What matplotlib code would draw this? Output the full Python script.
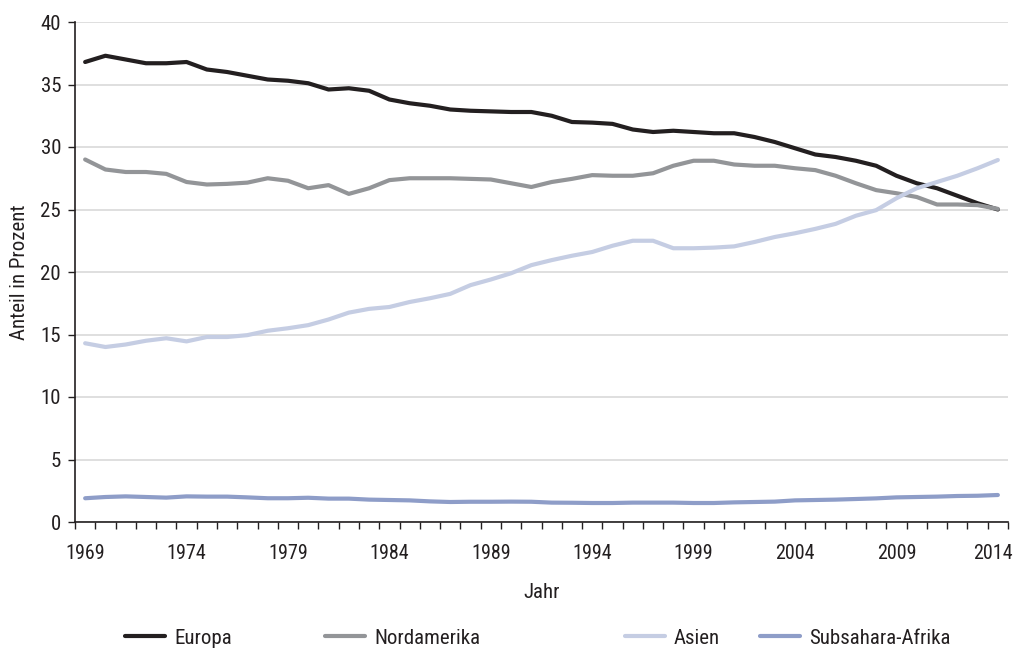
import matplotlib
matplotlib.use("Agg")
import matplotlib.pyplot as plt
from matplotlib import font_manager
from matplotlib.transforms import ScaledTranslation
import numpy as np

names = {f.name for f in font_manager.fontManager.ttflist}
chosen = 'Liberation Sans'
for p in ['Roboto Condensed', 'Archivo Narrow', 'Liberation Sans Narrow']:
    if p in names:
        chosen = p
        break
plt.rcParams['font.family'] = [chosen, 'DejaVu Sans']

years = list(range(1969, 2015))
europa = [36.8, 37.3, 37.0, 36.7, 36.7, 36.8, 36.2, 36.0, 35.7, 35.4, 35.3, 35.1,
          34.6, 34.7, 34.5, 33.8, 33.5, 33.3, 33.0, 32.9, 32.85, 32.8, 32.8, 32.5,
          32.0, 31.95, 31.85, 31.4, 31.2, 31.3, 31.2, 31.1, 31.1, 30.8, 30.4, 29.9,
          29.4, 29.2, 28.9, 28.5, 27.7, 27.1, 26.7, 26.1, 25.5, 25.0]
nordamerika = [29.0, 28.2, 28.0, 28.0, 27.85, 27.2, 27.0, 27.05, 27.15, 27.5, 27.3, 26.7,
               26.95, 26.25, 26.7, 27.35, 27.5, 27.5, 27.5, 27.45, 27.4, 27.1, 26.8, 27.2,
               27.45, 27.75, 27.7, 27.7, 27.9, 28.5, 28.9, 28.9, 28.6, 28.5, 28.5, 28.3,
               28.15, 27.7, 27.1, 26.55, 26.3, 26.0, 25.4, 25.4, 25.35, 25.05]
asien = [14.3, 14.0, 14.2, 14.5, 14.7, 14.45, 14.8, 14.8, 14.95, 15.3, 15.5, 15.75,
         16.2, 16.75, 17.05, 17.2, 17.6, 17.9, 18.25, 18.95, 19.4, 19.9, 20.55, 20.95,
         21.3, 21.6, 22.1, 22.5, 22.5, 21.9, 21.9, 21.95, 22.05, 22.4, 22.8, 23.1,
         23.45, 23.85, 24.5, 24.95, 25.9, 26.7, 27.2, 27.7, 28.3, 28.96]
subsahara = [1.9, 2.0, 2.05, 2.0, 1.95, 2.05, 2.03, 2.03, 1.97, 1.9, 1.9, 1.94,
             1.87, 1.87, 1.79, 1.76, 1.73, 1.65, 1.6, 1.62, 1.62, 1.63, 1.62, 1.55,
             1.54, 1.52, 1.52, 1.55, 1.55, 1.55, 1.52, 1.52, 1.57, 1.6, 1.63, 1.73,
             1.76, 1.79, 1.84, 1.89, 1.97, 2.0, 2.03, 2.08, 2.1, 2.16]

series = [("Europa", europa, "#231f20"),
          ("Nordamerika", nordamerika, "#939598"),
          ("Asien", asien, "#c5cde3"),
          ("Subsahara-Afrika", subsahara, "#8e9dc8")]

txt = "#231f20"
fs = 15
fig = plt.figure(figsize=(10.15, 6.51), dpi=100)
ax = fig.add_axes([75/1015, 1-522/651, 933/1015, 500/651])

x = np.arange(len(years))
lines = []
for name, vals, col in series:
    ln, = ax.plot(x, vals, color=col, lw=3.0, label=name, solid_capstyle='round', solid_joinstyle='round')
    lines.append(ln)

ax.set_xlim(-0.5, len(years) - 0.5)
ax.set_ylim(0, 40)
ax.set_yticks(range(0, 41, 5))
ax.yaxis.grid(True, color="#d9d9d9", lw=1.2)
ax.set_axisbelow(True)

ax.set_xticks(x[::5])
ax.set_xticklabels([str(y) for y in years[::5]])
ax.set_xticks(np.arange(-0.5, len(years), 1.0), minor=True)
ax.tick_params(axis='x', which='major', length=0, pad=16, labelsize=14.5, labelcolor=txt)
ax.tick_params(axis='x', which='minor', length=5, width=1, direction='out', color=txt)
ax.tick_params(axis='y', length=5, width=1, direction='out', labelsize=fs, pad=5, labelcolor=txt, color=txt)

last = ax.get_xticklabels()[-1]
last.set_transform(last.get_transform() + ScaledTranslation(-5/100, 0, fig.dpi_scale_trans))

for s in ['top', 'right']:
    ax.spines[s].set_visible(False)
for s in ['left', 'bottom']:
    ax.spines[s].set_color(txt)
    ax.spines[s].set_linewidth(1.2)

ax.set_xlabel("Jahr", fontsize=fs, labelpad=14, color=txt)
ax.set_ylabel("Anteil in Prozent", fontsize=fs, labelpad=8, color=txt)

leg_x = [125, 325, 625, 760]
for ln, lx in zip(lines, leg_x):
    fig.legend(handles=[ln], loc='center left', bbox_to_anchor=(lx/1015, 1-638/651),
               frameon=False, fontsize=fs, handlelength=1.9, handletextpad=0.45,
               borderpad=0, borderaxespad=0, labelcolor=txt)

fig.savefig("out.png", dpi=100)
